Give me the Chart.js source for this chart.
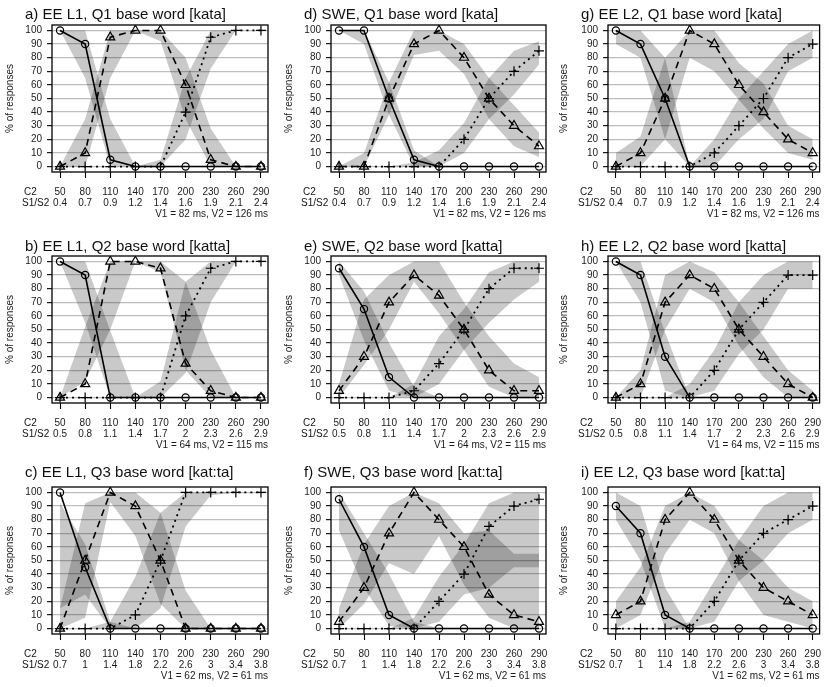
<!DOCTYPE html>
<html>
<head>
<meta charset="utf-8">
<script src="https://cdn.jsdelivr.net/npm/chart.js@4.4.0/dist/chart.umd.min.js"></script>
<style>
  html, body { margin: 0; padding: 0; background: #fff; }
  #wrap { position: relative; width: 826px; height: 687px; overflow: hidden; background: #fff; }
</style>
</head>
<body>
<div id="wrap"></div>
<script>
// Stimulus steps: C2 closure duration (ms) and S1/S2 ratio per base word
const c2Values = ['50', '80', '110', '140', '170', '200', '230', '260', '290'];
const ratioQ1 = ['0.4', '0.7', '0.9', '1.2', '1.4', '1.6', '1.9', '2.1', '2.4'];
const ratioQ2 = ['0.5', '0.8', '1.1', '1.4', '1.7', '2', '2.3', '2.6', '2.9'];
const ratioQ3 = ['0.7', '1', '1.4', '1.8', '2.2', '2.6', '3', '3.4', '3.8'];
const vowelsQ1 = 'V1 = 82 ms, V2 = 126 ms';
const vowelsQ2 = 'V1 = 64 ms, V2 = 115 ms';
const vowelsQ3 = 'V1 = 62 ms, V2 = 61 ms';

// % of Q1 (circle), Q2 (triangle), Q3 (plus) responses, with band limits
// a) EE L1, Q1 base word
const aQ1 = [100, 90, 5, 0, 0, 0, 0, 0, 0];
const aQ2 = [0, 10, 95, 100, 100, 60, 5, 0, 0];
const aQ3 = [0, 0, 0, 0, 0, 40, 95, 100, 100];
const aQ1Lo = [100, 65, 0, 0, 0, 0, 0, 0, 0];
const aQ1Hi = [100, 100, 35, 0, 0, 0, 0, 0, 0];
const aQ2Lo = [0, 0, 65, 100, 92, 35, 0, 0, 0];
const aQ2Hi = [0, 35, 100, 100, 100, 80, 28, 0, 0];
const aQ3Lo = [0, 0, 0, 0, 0, 20, 72, 100, 100];
const aQ3Hi = [0, 0, 0, 0, 5, 65, 100, 100, 100];

// b) EE L1, Q2 base word
const bQ1 = [100, 90, 0, 0, 0, 0, 0, 0, 0];
const bQ2 = [0, 10, 100, 100, 95, 25, 5, 0, 0];
const bQ3 = [0, 0, 0, 0, 0, 60, 95, 100, 100];
const bQ1Lo = [100, 55, 0, 0, 0, 0, 0, 0, 0];
const bQ1Hi = [100, 100, 49, 0, 0, 0, 0, 0, 0];
const bQ2Lo = [0, 12, 50, 100, 92, 20, 0, 0, 0];
const bQ2Hi = [0, 52, 100, 100, 100, 85, 35, 0, 0];
const bQ3Lo = [0, 0, 0, 0, 0, 18, 70, 100, 100];
const bQ3Hi = [0, 0, 0, 0, 12, 85, 100, 100, 100];

// c) EE L1, Q3 base word
const cQ1 = [100, 45, 0, 0, 0, 0, 0, 0, 0];
const cQ2 = [0, 50, 100, 90, 50, 0, 0, 0, 0];
const cQ3 = [0, 0, 0, 10, 50, 100, 100, 100, 100];
const cQ1Lo = [15, 25, 0, 0, 0, 0, 0, 0, 0];
const cQ1Hi = [92, 62, 5, 0, 0, 0, 0, 0, 0];
const cQ2Lo = [0, 8, 93, 68, 18, 0, 0, 0, 0];
const cQ2Hi = [15, 92, 100, 100, 85, 28, 0, 0, 0];
const cQ3Lo = [0, 0, 0, 0, 15, 75, 98, 100, 100];
const cQ3Hi = [0, 0, 5, 38, 85, 100, 100, 100, 100];

// d) SWE, Q1 base word
const dQ1 = [100, 100, 50, 5, 0, 0, 0, 0, 0];
const dQ2 = [0, 0, 50, 90, 100, 80, 50, 30, 15];
const dQ3 = [0, 0, 0, 0, 0, 20, 50, 70, 85];
const dQ1Lo = [100, 90, 38, 0, 0, 0, 0, 0, 0];
const dQ1Hi = [100, 100, 62, 12, 0, 0, 0, 0, 0];
const dQ2Lo = [0, 0, 38, 82, 85, 68, 35, 15, 7];
const dQ2Hi = [0, 10, 62, 100, 100, 90, 65, 45, 25];
const dQ3Lo = [0, 0, 0, 0, 0, 10, 35, 53, 75];
const dQ3Hi = [0, 0, 0, 3, 12, 32, 65, 85, 92];

// e) SWE, Q2 base word
const eQ1 = [95, 65, 15, 0, 0, 0, 0, 0, 0];
const eQ2 = [5, 30, 70, 90, 75, 50, 20, 5, 5];
const eQ3 = [0, 0, 0, 5, 25, 50, 80, 95, 95];
const eQ1Lo = [90, 42, 5, 0, 0, 0, 0, 0, 0];
const eQ1Hi = [100, 78, 40, 8, 0, 0, 0, 0, 0];
const eQ2Lo = [0, 24, 50, 85, 62, 35, 8, 0, 0];
const eQ2Hi = [10, 72, 90, 100, 100, 70, 45, 25, 15];
const eQ3Lo = [0, 0, 0, 0, 10, 35, 55, 72, 85];
const eQ3Hi = [0, 0, 0, 10, 45, 65, 92, 100, 100];

// f) SWE, Q3 base word
const fQ1 = [95, 60, 10, 0, 0, 0, 0, 0, 0];
const fQ2 = [5, 30, 70, 100, 80, 60, 25, 10, 5];
const fQ3 = [0, 0, 0, 0, 20, 40, 75, 90, 95];
const fQ1Lo = [72, 30, 2, 0, 0, 0, 0, 0, 0];
const fQ1Hi = [100, 70, 40, 5, 0, 0, 0, 0, 0];
const fQ2Lo = [0, 18, 48, 40, 68, 32, 8, 0, 0];
const fQ2Hi = [15, 62, 90, 100, 92, 70, 72, 55, 55];
const fQ3Lo = [0, 0, 0, 0, 5, 25, 30, 45, 45];
const fQ3Hi = [0, 0, 0, 8, 38, 62, 92, 100, 100];

// g) EE L2, Q1 base word
const gQ1 = [100, 90, 50, 0, 0, 0, 0, 0, 0];
const gQ2 = [0, 10, 50, 100, 90, 60, 40, 20, 10];
const gQ3 = [0, 0, 0, 0, 10, 30, 50, 80, 90];
const gQ1Lo = [90, 80, 20, 0, 0, 0, 0, 0, 0];
const gQ1Hi = [100, 100, 80, 0, 0, 0, 0, 0, 0];
const gQ2Lo = [0, 0, 20, 80, 70, 49, 28, 10, 5];
const gQ2Hi = [10, 22, 80, 100, 100, 76, 61, 30, 20];
const gQ3Lo = [0, 0, 0, 0, 0, 20, 35, 70, 80];
const gQ3Hi = [0, 0, 0, 0, 20, 50, 70, 90, 100];

// h) EE L2, Q2 base word
const hQ1 = [100, 90, 30, 0, 0, 0, 0, 0, 0];
const hQ2 = [0, 10, 70, 90, 80, 50, 30, 10, 0];
const hQ3 = [0, 0, 0, 0, 20, 50, 70, 90, 90];
const hQ1Lo = [100, 70, 5, 0, 0, 0, 0, 0, 0];
const hQ1Hi = [100, 100, 48, 0, 0, 0, 0, 0, 0];
const hQ2Lo = [0, 0, 50, 80, 70, 38, 15, 0, 0];
const hQ2Hi = [0, 20, 90, 100, 92, 70, 45, 20, 5];
const hQ3Lo = [0, 0, 0, 0, 5, 32, 50, 80, 80];
const hQ3Hi = [0, 0, 0, 10, 35, 70, 90, 100, 100];

// i) EE L2, Q3 base word
const iQ1 = [90, 70, 10, 0, 0, 0, 0, 0, 0];
const iQ2 = [10, 20, 80, 100, 80, 50, 30, 20, 10];
const iQ3 = [0, 0, 0, 0, 20, 50, 70, 80, 90];
const iQ1Lo = [80, 50, 0, 0, 0, 0, 0, 0, 0];
const iQ1Hi = [100, 90, 30, 0, 0, 0, 0, 0, 0];
const iQ2Lo = [0, 10, 55, 80, 70, 35, 10, 5, 0];
const iQ2Hi = [20, 45, 90, 100, 90, 65, 50, 30, 20];
const iQ3Lo = [0, 0, 0, 0, 5, 35, 50, 70, 80];
const iQ3Hi = [0, 0, 0, 5, 35, 65, 90, 100, 100];

// ---------------------------------------------------------------------------
const FONT = '"Liberation Sans", Arial, Helvetica, sans-serif';
Chart.defaults.font.family = FONT;
Chart.defaults.font.size = 10;
Chart.defaults.color = '#1a1a1a';

const BAND = 'rgba(0, 0, 0, 0.21)';
const TOP_PAD = 25;      // room above the plot box for the panel title
const PLOT_H = 147;      // plot box height
const X_AXIS_H = 48;     // tick marks, two label rows and the vowel note
const X_TICK_LEN = 6, X_TICK_PAD = 9, X_LINE_H = 10.7;

const COLS = [
  { left: 0,   yW: 52, boxRight: 268, padR: 8 },
  { left: 279, yW: 52, boxRight: 546, padR: 8 },
  { left: 554, yW: 54, boxRight: 822, padR: 4 }
];
const ROWS = [
  { top: 0,   titleGap: 10 },
  { top: 231, titleGap: 9.5 },
  { top: 462, titleGap: 14 }
];

const questions = [
  { ratios: ratioQ1, vowels: vowelsQ1 },
  { ratios: ratioQ2, vowels: vowelsQ2 },
  { ratios: ratioQ3, vowels: vowelsQ3 }
];

const panels = [
  { title: 'a) EE L1, Q1 base word [kata]',   col: 0, row: 0, v: [aQ1, aQ2, aQ3], lo: [aQ1Lo, aQ2Lo, aQ3Lo], hi: [aQ1Hi, aQ2Hi, aQ3Hi] },
  { title: 'b) EE L1, Q2 base word [katta]',  col: 0, row: 1, v: [bQ1, bQ2, bQ3], lo: [bQ1Lo, bQ2Lo, bQ3Lo], hi: [bQ1Hi, bQ2Hi, bQ3Hi] },
  { title: 'c) EE L1, Q3 base word [kat:ta]', col: 0, row: 2, v: [cQ1, cQ2, cQ3], lo: [cQ1Lo, cQ2Lo, cQ3Lo], hi: [cQ1Hi, cQ2Hi, cQ3Hi] },
  { title: 'd) SWE, Q1 base word [kata]',     col: 1, row: 0, v: [dQ1, dQ2, dQ3], lo: [dQ1Lo, dQ2Lo, dQ3Lo], hi: [dQ1Hi, dQ2Hi, dQ3Hi] },
  { title: 'e) SWE, Q2 base word [katta]',    col: 1, row: 1, v: [eQ1, eQ2, eQ3], lo: [eQ1Lo, eQ2Lo, eQ3Lo], hi: [eQ1Hi, eQ2Hi, eQ3Hi] },
  { title: 'f) SWE, Q3 base word [kat:ta]',   col: 1, row: 2, v: [fQ1, fQ2, fQ3], lo: [fQ1Lo, fQ2Lo, fQ3Lo], hi: [fQ1Hi, fQ2Hi, fQ3Hi] },
  { title: 'g) EE L2, Q1 base word [kata]',   col: 2, row: 0, v: [gQ1, gQ2, gQ3], lo: [gQ1Lo, gQ2Lo, gQ3Lo], hi: [gQ1Hi, gQ2Hi, gQ3Hi] },
  { title: 'h) EE L2, Q2 base word [katta]',  col: 2, row: 1, v: [hQ1, hQ2, hQ3], lo: [hQ1Lo, hQ2Lo, hQ3Lo], hi: [hQ1Hi, hQ2Hi, hQ3Hi] },
  { title: 'i) EE L2, Q3 base word [kat:ta]', col: 2, row: 2, v: [iQ1, iQ2, iQ3], lo: [iQ1Lo, iQ2Lo, iQ3Lo], hi: [iQ1Hi, iQ2Hi, iQ3Hi] }
];

// line style per response category: solid/circle, dashed/triangle, dotted/plus
const lineStyles = [
  { dash: [],     width: 1.6, point: 'circle',   radius: 3.6 },
  { dash: [7, 5], width: 1.6, point: 'triangle', radius: 5.2 },
  { dash: [2, 4], width: 1.8, point: 'cross',    radius: 5.0 }
];

const pts = arr => arr.map((v, i) => ({ x: i + 1, y: v }));

// frame around the plotting region
const framePlugin = {
  id: 'frame',
  afterDatasetsDraw(chart) {
    const a = chart.chartArea, ctx = chart.ctx;
    ctx.save();
    ctx.strokeStyle = '#000';
    ctx.lineWidth = 1.3;
    ctx.strokeRect(a.left, a.top, a.right - a.left, a.bottom - a.top);
    ctx.restore();
  }
};

function buildPanel(p) {
  const col = COLS[p.col], row = ROWS[p.row], q = questions[p.row];
  const w = col.boxRight + col.padR - col.left;
  const h = TOP_PAD + PLOT_H + X_AXIS_H;

  const canvas = document.createElement('canvas');
  canvas.width = w; canvas.height = h;
  canvas.style.cssText = `position:absolute;left:${col.left}px;top:${row.top}px;width:${w}px;height:${h}px;`;
  document.getElementById('wrap').appendChild(canvas);

  const datasets = [];
  for (let k = 0; k < 3; k++) {
    datasets.push({ data: pts(p.lo[k]), borderWidth: 0, pointRadius: 0, fill: false, order: 5 });
    datasets.push({ data: pts(p.hi[k]), borderWidth: 0, pointRadius: 0, fill: '-1', backgroundColor: BAND, order: 5 });
  }
  for (let k = 0; k < 3; k++) {
    const s = lineStyles[k];
    datasets.push({
      data: pts(p.v[k]),
      borderColor: '#000', borderWidth: s.width, borderDash: s.dash, borderCapStyle: 'butt',
      pointStyle: s.point, pointRadius: s.radius, pointBorderWidth: 1.2,
      pointBorderColor: '#000', pointBackgroundColor: 'rgba(0,0,0,0)',
      fill: false, tension: 0, order: k
    });
  }

  // panel title plus the row names of the two x label rows
  const textPlugin = {
    id: 'panelText',
    afterDraw(chart) {
      const a = chart.chartArea, ctx = chart.ctx;
      ctx.save();
      ctx.fillStyle = '#111';
      ctx.textAlign = 'left';
      ctx.textBaseline = 'middle';
      ctx.font = '15px ' + FONT;
      ctx.fillText(p.title, a.left - 27, a.top - row.titleGap);
      ctx.font = '10px ' + FONT;
      const y1 = a.bottom + X_TICK_LEN + X_TICK_PAD + X_LINE_H / 2;
      ctx.fillText('C2', a.left - 28, y1);
      ctx.fillText('S1/S2', a.left - 30, y1 + X_LINE_H);
      ctx.restore();
    }
  };

  new Chart(canvas, {
    type: 'line',
    data: { datasets },
    options: {
      responsive: false,
      animation: false,
      devicePixelRatio: 1,
      layout: { padding: { left: 0, top: TOP_PAD, right: w - (col.boxRight - col.left), bottom: 0 } },
      plugins: { legend: { display: false }, tooltip: { enabled: false } },
      scales: {
        x: {
          type: 'linear', min: 0.68, max: 9.28,
          border: { display: false },
          grid: { drawOnChartArea: false, drawTicks: true, tickLength: X_TICK_LEN, tickColor: '#000', tickWidth: 1.1 },
          ticks: {
            stepSize: 1, includeBounds: false, autoSkip: false, maxRotation: 0,
            padding: X_TICK_PAD, color: '#1a1a1a',
            font: { size: 10, lineHeight: X_LINE_H / 10 },
            callback: v => {
              const i = Math.round(v) - 1;
              return (i >= 0 && i < 9 && Math.abs(v - Math.round(v)) < 1e-6) ? [c2Values[i], q.ratios[i]] : '';
            }
          },
          title: { display: true, text: q.vowels, align: 'end', color: '#1a1a1a', font: { size: 10 }, padding: { top: 0, bottom: 0 } },
          afterFit: s => { s.height = X_AXIS_H; s.paddingLeft = 0; s.paddingRight = 0; }
        },
        y: {
          min: -4, max: 104,
          border: { display: false },
          grid: { color: '#bdbdbd', lineWidth: 1.3, drawTicks: true, tickLength: 5, tickColor: '#000', tickWidth: 1.1 },
          ticks: { stepSize: 10, includeBounds: false, autoSkip: false, padding: 5, color: '#1a1a1a', font: { size: 10 } },
          title: { display: true, text: '% of responses', color: '#1a1a1a', font: { size: 10 }, padding: { top: 4, bottom: 0 } },
          afterFit: s => { s.width = col.yW; s.paddingTop = 0; s.paddingBottom = 0; }
        }
      }
    },
    plugins: [framePlugin, textPlugin]
  });
}

panels.forEach(buildPanel);
</script>
</body>
</html>
